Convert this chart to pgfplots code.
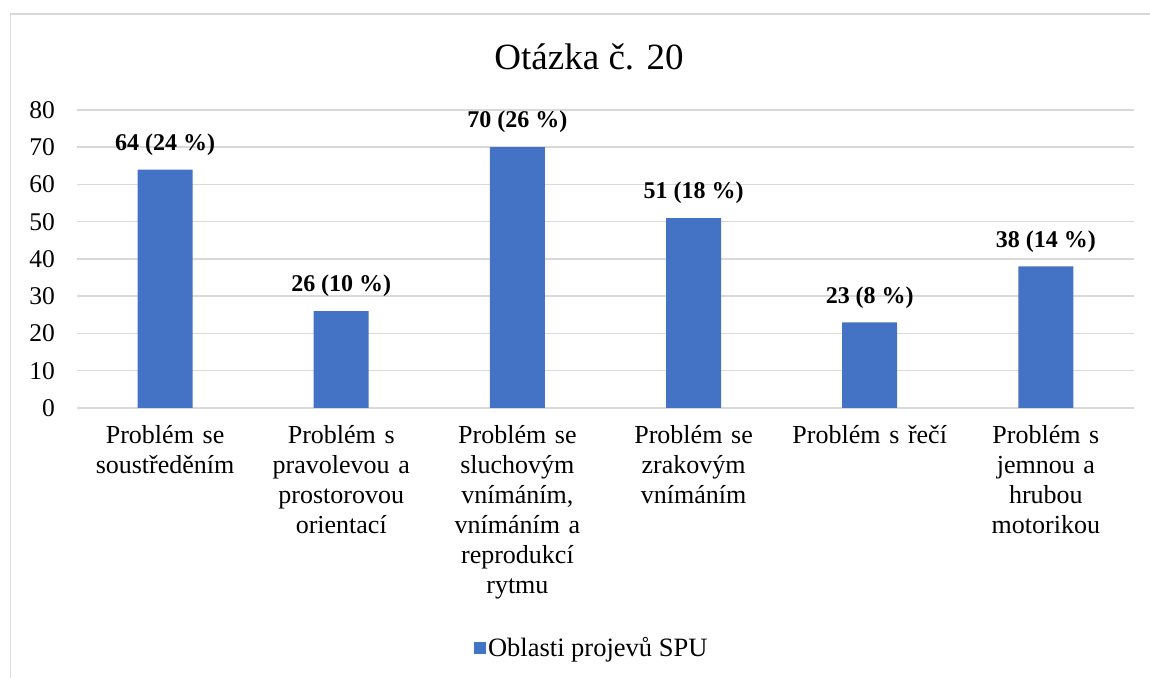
\documentclass[border=0pt]{standalone}
\usepackage{fontspec}
\setmainfont{Liberation Serif}
\usepackage{pgfplots}
\pgfplotsset{compat=1.18}
\definecolor{barblue}{HTML}{4472C4}
\definecolor{gridgray}{HTML}{D9D9D9}
\begin{document}
\begin{tikzpicture}[x=1pt,y=1pt]
\path[use as bounding box] (0,0) rectangle (1150,677);
\draw[gridgray, line width=1.5pt] (10.5,-5) -- (10.5,663) -- (1160,663);
\node[anchor=base, font=\fontsize{37}{40}\selectfont] at (589,607) {Otázka č. 20};
\begin{axis}[
  at={(77pt,269pt)}, anchor=south west,
  scale only axis, width=1057pt, height=298pt,
  xmin=-0.5, xmax=5.5, ymin=0, ymax=80,
  ytick={0,10,...,80},
  xtick=data,
  xticklabels={{Problém se\\soustředěním},{Problém s\\pravolevou a\\prostorovou\\orientací},{Problém se\\sluchovým\\vnímáním,\\vnímáním a\\reprodukcí\\rytmu},{Problém se\\zrakovým\\vnímáním},{Problém s řečí},{Problém s\\jemnou a\\hrubou\\motorikou}},
  xticklabel style={font=\fontsize{26}{30}\selectfont, align=center, text width=175pt, anchor=north, inner sep=0pt, yshift=-17pt},
  yticklabel style={font=\fontsize{25.5}{30}\selectfont, anchor=east, inner sep=0pt, xshift=-22pt},
  /pgf/number format/assume math mode=true,
  major tick length=0pt,
  ymajorgrids, grid style={gridgray, line width=1.5pt},
  axis line style={draw=none},
  xtick pos=bottom, ytick pos=left,
  ybar, bar width=55pt,
  nodes near coords,
  point meta=explicit symbolic,
  every node near coord/.append style={font=\bfseries\fontsize{24}{28}\selectfont, anchor=south, inner sep=0pt, yshift=14pt},
  legend style={at={(0.487,-0.805)}, anchor=center, draw=none, font=\fontsize{26.5}{30}\selectfont, inner sep=0pt},
  legend image code/.code={\fill[barblue] (0pt,-6pt) rectangle (12pt,6pt);},
]
\addplot[fill=barblue, draw=none] coordinates {
  (0,64) [64 (24 \%)]
  (1,26) [26 (10 \%)]
  (2,70) [70 (26 \%)]
  (3,51) [51 (18 \%)]
  (4,23) [23 (8 \%)]
  (5,38) [38 (14 \%)]
};
\addlegendentry{Oblasti projevů SPU}
\end{axis}
\end{tikzpicture}
\end{document}
